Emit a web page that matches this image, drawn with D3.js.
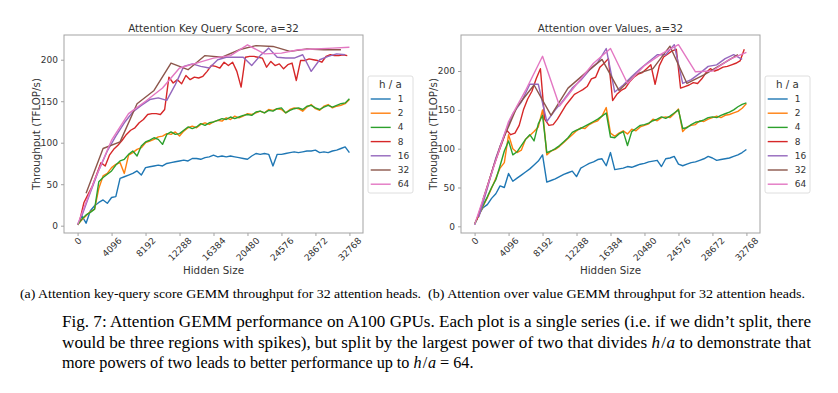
<!DOCTYPE html>
<html>
<head>
<meta charset="utf-8">
<script src="https://cdn.jsdelivr.net/npm/d3@7"></script>
<style>
  body { margin: 0; background: #fff; }
  svg { display: block; font-family: "DejaVu Sans", sans-serif; }
  .cap { font-family: "Liberation Serif", "Times New Roman", serif; fill: #000; }
</style>
</head>
<body>
<svg id="fig" width="838" height="393"></svg>
<script>
// h / a legend keys, and the hidden sizes each series is sampled on
const ratioKeys = ["1", "2", "4", "8", "16", "32", "64"]
const seriesStart = [0, 0, 0, 256, 512, 1024, 0]
const seriesStep = [512, 512, 512, 512, 1024, 2048, 2048]

const xTicks = [0, 4096, 8192, 12288, 16384, 20480, 24576, 28672, 32768]
const yTicks = [0, 50, 100, 150, 200]

// (a) attention key-query score, TFLOP/s
const kqH1 = [1,12,3,18,24,28,31,27,34,35, 57,59,61,63,66,61,70,71,72,73, 72,75,76,77,78,79,78,81,81,80,
  82,83,85,83,84,83,84,83,82,81, 80,84,87,86,87,86,72,86,86,87, 88,89,88,89,90,90,91,88,89,88, 90,91,93,95,88]
const kqH2 = [1,7,12,17,20,45,60,63,70,74, 76,63,85,88,92,94,100,102,104,107, 108,111,110,113,108,114,118,120,118,122,
  124,122,125,127,126,130,128,132,130,132, 135,134,136,138,136,140,139,141,140,136, 140,142,141,138,143,146,141,139,144,146, 142,144,145,147,152]
const kqH4 = [1,8,13,16,20,53,58,62,66,73, 78,80,86,90,84,96,101,103,106,104, 98,110,113,110,111,115,119,117,119,123,
  121,124,125,127,129,128,131,129,131,133, 134,133,137,138,136,139,138,141,142,136, 139,141,142,140,144,145,142,140,143,145, 143,145,147,148,153]
const kqH8 = [6,28,38,48,62,76,72,85,92,97, 103,110,115,118,124,128,134,135,135,134, 140,179,172,176,171,181,176,179,178,180,
  186,193,192,190,197,193,197,186,167,203, 204,204,203,202,191,198,193,195,189,194, 196,175,199,199,201,200,199,197,204,206, 205,205,206,205]
const kqH16 = [12,40,67,90,108,124,137,145,152,154, 151,170,192,195,192,190,200,203,203,203, 193,205,214,203,202,202,206,186,200,204, 207,206]
const kqH32 = [39,93,101,147,163,196,188,205,203,212,217,216,210,213,212,212]
const kqH64 = [1,55,103,135,150,166,190,196,202,205,218,207,208,212,213,214,215]

// (b) attention over values, TFLOP/s
const avH1 = [2,15,24,28,36,42,52,50,68,58, 62,66,70,74,79,84,92,57,59,61, 64,67,69,71,64,75,78,81,83,86,
  87,78,95,73,74,75,77,76,78,80, 81,83,84,85,77,87,88,90,80,78, 80,82,83,85,87,90,88,85,86,87, 88,90,92,95,99]
const avH2 = [3,14,26,37,49,62,75,82,118,100, 95,98,112,117,122,128,150,92,97,99, 103,108,113,118,123,127,126,131,134,136,
  142,153,120,116,120,123,119,125,123,128, 130,132,138,136,140,141,140,145,151,122, 128,130,131,136,135,138,140,142,140,143, 144,146,148,152,158]
const avH4 = [3,15,27,38,50,60,78,97,110,92, 96,104,112,118,110,132,143,95,97,100, 104,109,114,121,124,126,129,132,135,138,
  142,146,115,114,119,122,104,122,126,130, 131,133,136,138,141,139,142,146,150,126, 127,131,134,135,137,140,141,140,143,145, 147,150,154,157,159]
const avH8 = [8,25,42,60,78,93,108,124,118,120, 130,150,164,174,190,203,138,130,131,138, 147,156,163,170,173,176,180,190,192,205,
  210,216,162,170,175,178,186,192,196,198, 203,208,183,207,218,222,226,228,178,180, 182,185,184,190,198,203,200,202,205,206, 208,210,213,228]
const avH16 = [12,49,88,118,145,160,183,183,135,150, 163,178,188,201,211,229,173,182,193,203, 212,221,221,234,184,189,197,206,208,216, 221,215]
const avH32 = [35,103,154,182,143,178,197,215,175,196,203,232,184,195,208,221]
const avH64 = [2,68,135,175,219,155,183,210,229,184,207,222,234,199,200,215,224]

const colors = ["#1f77b4", "#ff7f0e", "#2ca02c", "#d62728", "#9467bd", "#8c564b", "#e377c2"]

const axTop = 35
const axBottom = 233
const tickFont = 9
const labelFont = 10.3

const panels = [
    {title: "Attention Key Query Score, a=32", x0: 64, x1: 363, yDomain: [-8.8, 229.8], ylabelX: 39.5,
     values: [kqH1, kqH2, kqH4, kqH8, kqH16, kqH32, kqH64]},
    {title: "Attention over Values, a=32", x0: 461, x1: 760, yDomain: [-8.6, 246.4], ylabelX: 436.5,
     values: [avH1, avH2, avH4, avH8, avH16, avH32, avH64]}
]

const svg = d3.select("#fig")
svg.append("rect").attr("width", 838).attr("height", 393).attr("fill", "#fff")

const drawPanel = (p) => {
    const g = svg.append("g")
    const x = d3.scaleLinear().domain([-1638.4, 34406.4]).range([p.x0, p.x1])
    const y = d3.scaleLinear().domain(p.yDomain).range([axBottom, axTop])

    const line = d3.line()
        .x(d => x(d[0]))
        .y(d => y(d[1]))

    p.values.forEach((vals, k) => {
        const pts = vals.map((v, i) => [seriesStart[k] + i * seriesStep[k], v])
        g.append("path")
            .datum(pts)
            .attr("fill", "none")
            .attr("stroke", colors[k])
            .attr("stroke-width", 1.4)
            .attr("stroke-linejoin", "round")
            .attr("d", line)
    })

    g.append("rect")
        .attr("x", p.x0).attr("y", axTop)
        .attr("width", p.x1 - p.x0).attr("height", axBottom - axTop)
        .attr("fill", "none").attr("stroke", "#a3a3a3").attr("stroke-width", 1)

    const yAxis = g.append("g")
        .attr("transform", `translate(${p.x0},0)`)
        .call(d3.axisLeft(y).tickValues(yTicks).tickSize(3).tickPadding(3))
    yAxis.select(".domain").remove()
    yAxis.selectAll("line").attr("stroke", "#a3a3a3")
    yAxis.selectAll("text").attr("font-size", tickFont).attr("fill", "#333").attr("font-family", "DejaVu Sans")

    const xAxis = g.append("g")
        .attr("transform", `translate(0,${axBottom})`)
        .call(d3.axisBottom(x).tickValues(xTicks).tickSize(3).tickFormat(d3.format("d")))
    xAxis.select(".domain").remove()
    xAxis.selectAll("line").attr("stroke", "#a3a3a3")
    xAxis.selectAll("text")
        .attr("font-size", tickFont).attr("fill", "#333").attr("font-family", "DejaVu Sans")
        .attr("y", 0).attr("dy", null)
        .attr("text-anchor", "middle")
        .attr("dominant-baseline", "central")
        .attr("transform", function () {
            const w = this.getComputedTextLength()
            return `translate(0,${3 + (w + tickFont) * 0.3536}) rotate(-45)`
        })

    g.append("text")
        .attr("x", (p.x0 + p.x1) / 2).attr("y", 32)
        .attr("text-anchor", "middle").attr("font-size", labelFont).attr("fill", "#333")
        .text(p.title)

    g.append("text")
        .attr("x", (p.x0 + p.x1) / 2).attr("y", 274)
        .attr("text-anchor", "middle").attr("font-size", labelFont).attr("fill", "#333")
        .text("Hidden Size")

    g.append("text")
        .attr("transform", `translate(${p.ylabelX},${(axTop + axBottom) / 2}) rotate(-90)`)
        .attr("text-anchor", "middle").attr("font-size", labelFont).attr("fill", "#333")
        .text("Throughput (TFLOP/s)")

    // legend
    const lg = g.append("g").attr("transform", `translate(${p.x1 + 5},76)`)
    lg.append("rect")
        .attr("width", 45).attr("height", 117).attr("rx", 2)
        .attr("fill", "#fff").attr("stroke", "#d6d6d6").attr("stroke-width", 0.8)
    lg.append("text")
        .attr("x", 22.5).attr("y", 12)
        .attr("text-anchor", "middle").attr("font-size", labelFont).attr("fill", "#333")
        .text("h / a")
    ratioKeys.forEach((key, k) => {
        const ey = 23 + k * 14.2
        lg.append("line")
            .attr("x1", 2.7).attr("x2", 22.7).attr("y1", ey).attr("y2", ey)
            .attr("stroke", colors[k]).attr("stroke-width", 1.4)
        lg.append("text")
            .attr("x", 29.7).attr("y", ey)
            .attr("dominant-baseline", "central").attr("font-size", tickFont).attr("fill", "#333")
            .text(key)
    })
}

panels.forEach(drawPanel)

// captions
const caps = svg.append("g").attr("class", "cap")
caps.append("text").attr("x", 20).attr("y", 298).attr("font-size", 13.5)
    .attr("textLength", 401).attr("lengthAdjust", "spacingAndGlyphs")
    .text("(a) Attention key-query score GEMM throughput for 32 attention heads.")
caps.append("text").attr("x", 428).attr("y", 298).attr("font-size", 13.5)
    .attr("textLength", 377).attr("lengthAdjust", "spacingAndGlyphs")
    .text("(b) Attention over value GEMM throughput for 32 attention heads.")

caps.append("text").attr("x", 62).attr("y", 327).attr("font-size", 17)
    .attr("textLength", 749).attr("lengthAdjust", "spacingAndGlyphs")
    .text("Fig. 7: Attention GEMM performance on A100 GPUs. Each plot is a single series (i.e. if we didn\u2019t split, there")

// h/a set as math: italic letters with a little room round the slash
const mathRatio = (t) => {
    t.append("tspan").attr("font-style", "italic").text("h")
    t.append("tspan").attr("dx", 1.2).text("/")
    t.append("tspan").attr("dx", 0.6).attr("font-style", "italic").text("a")
}

const l2 = caps.append("text").attr("x", 62).attr("y", 348).attr("font-size", 17)
    .attr("textLength", 749).attr("lengthAdjust", "spacingAndGlyphs")
l2.append("tspan").text("would be three regions with spikes), but split by the largest power of two that divides ")
mathRatio(l2)
l2.append("tspan").text(" to demonstrate that")

const l3 = caps.append("text").attr("x", 62).attr("y", 368).attr("font-size", 16.2)
l3.append("tspan").text("more powers of two leads to better performance up to ")
mathRatio(l3)
l3.append("tspan").text(" = 64.")
</script>
</body>
</html>
